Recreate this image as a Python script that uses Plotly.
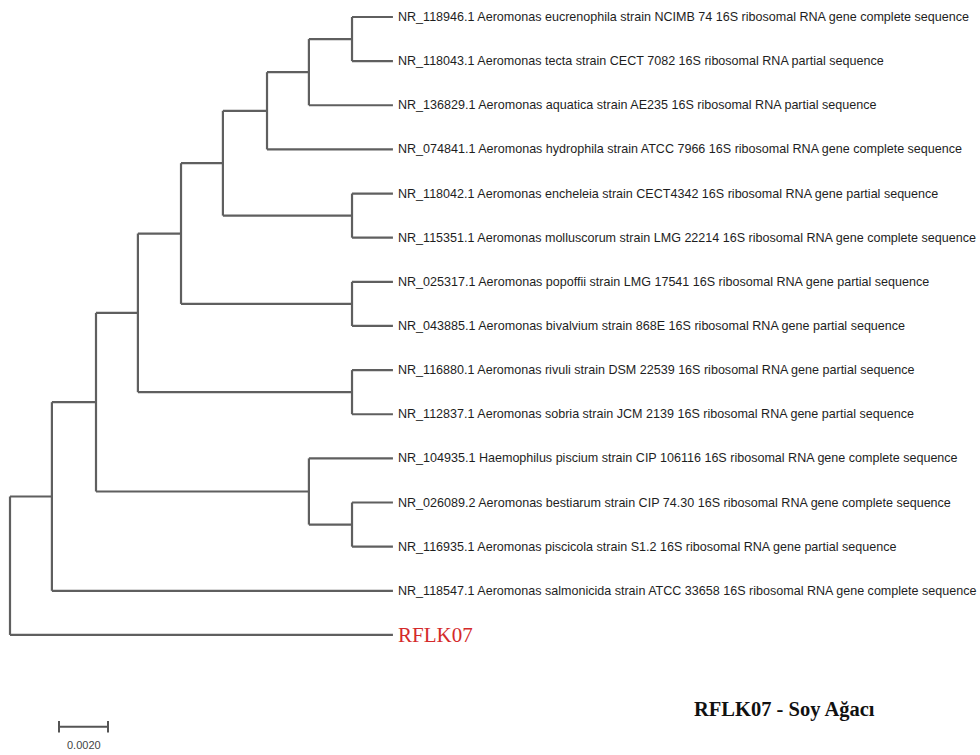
import plotly.graph_objects as go

# Leaf labels, top to bottom
leaf_labels = [
    "NR_118946.1 Aeromonas eucrenophila strain NCIMB 74 16S ribosomal RNA gene complete sequence",
    "NR_118043.1 Aeromonas tecta strain CECT 7082 16S ribosomal RNA partial sequence",
    "NR_136829.1 Aeromonas aquatica strain AE235 16S ribosomal RNA partial sequence",
    "NR_074841.1 Aeromonas hydrophila strain ATCC 7966 16S ribosomal RNA gene complete sequence",
    "NR_118042.1 Aeromonas encheleia strain CECT4342 16S ribosomal RNA gene partial sequence",
    "NR_115351.1 Aeromonas molluscorum strain LMG 22214 16S ribosomal RNA gene complete sequence",
    "NR_025317.1 Aeromonas popoffii strain LMG 17541 16S ribosomal RNA gene partial sequence",
    "NR_043885.1 Aeromonas bivalvium strain 868E 16S ribosomal RNA gene partial sequence",
    "NR_116880.1 Aeromonas rivuli strain DSM 22539 16S ribosomal RNA gene partial sequence",
    "NR_112837.1 Aeromonas sobria strain JCM 2139 16S ribosomal RNA gene partial sequence",
    "NR_104935.1 Haemophilus piscium strain CIP 106116 16S ribosomal RNA gene complete sequence",
    "NR_026089.2 Aeromonas bestiarum strain CIP 74.30 16S ribosomal RNA gene complete sequence",
    "NR_116935.1 Aeromonas piscicola strain S1.2 16S ribosomal RNA gene partial sequence",
    "NR_118547.1 Aeromonas salmonicida strain ATCC 33658 16S ribosomal RNA gene complete sequence",
    "RFLK07",
]

# Distance of every leaf tip from the root
leaf_depth = [0.01563] * 15

# Internal nodes: name, children (leaf indices or node names), distance from root
node_names = ["a", "b", "c", "d", "e", "f", "g", "h", "i", "j", "k", "l", "m", "root"]
node_children = [
    [0, 1], ["a", 2], ["b", 3], [4, 5], ["c", "d"], [6, 7], ["e", "f"],
    [8, 9], ["g", "h"], [11, 12], [10, "j"], ["i", "k"], ["l", 13], ["m", 14],
]
node_depth = [
    0.01396, 0.01220, 0.01049, 0.01396, 0.00869, 0.01396, 0.00698,
    0.01396, 0.00522, 0.01396, 0.01220, 0.00351, 0.00171, 0.0,
]

scale_bar_length = 0.0020
scale_bar_start = 0.0020
title_text = "RFLK07 - Soy Ağacı"

LINE = "#5f5f5f"

# Resolve positions of nodes
pos = {}
for i, d in enumerate(leaf_depth):
    pos[i] = (d, float(i))
for name, kids, d in zip(node_names, node_children, node_depth):
    ys = [pos[k][1] for k in kids]
    pos[name] = (d, (min(ys) + max(ys)) / 2)

xs, ys = [], []
for name, kids, d in zip(node_names, node_children, node_depth):
    ky = [pos[k][1] for k in kids]
    # vertical connector
    xs += [d, d, None]
    ys += [min(ky), max(ky), None]
    # horizontal branches to children
    for k in kids:
        cx, cy = pos[k]
        xs += [d, cx, None]
        ys += [cy, cy, None]

fig = go.Figure()
fig.add_trace(go.Scatter(x=xs, y=ys, mode="lines",
                         line=dict(color=LINE, width=2.2),
                         hoverinfo="skip", showlegend=False))

for i, lab in enumerate(leaf_labels):
    if lab == "RFLK07":
        font = dict(family="Liberation Serif, Times New Roman, serif", size=21, color="#d42a2a")
    else:
        font = dict(family="Liberation Sans, Arial", size=12.55, color="#1e1e1e")
    fig.add_annotation(x=leaf_depth[i], y=i, text=lab, showarrow=False,
                       xanchor="left", yanchor="middle", xshift=3,
                       font=font)

# Scale bar
sb_y = 16.08
sb_x0 = scale_bar_start
sb_x1 = scale_bar_start + scale_bar_length
fig.add_trace(go.Scatter(
    x=[sb_x0, sb_x1, None, sb_x0, sb_x0, None, sb_x1, sb_x1],
    y=[sb_y, sb_y, None, sb_y - 0.13, sb_y + 0.13, None, sb_y - 0.13, sb_y + 0.13],
    mode="lines", line=dict(color="#555555", width=2),
    hoverinfo="skip", showlegend=False))
fig.add_annotation(x=(sb_x0 + sb_x1) / 2, y=sb_y + 0.42, text=f"{scale_bar_length:.4f}",
                   showarrow=False, font=dict(family="Liberation Sans, Arial", size=11, color="#444444"))

fig.add_annotation(x=0.0316, y=15.68, text=f"<b>{title_text}</b>", showarrow=False,
                   xanchor="center", yanchor="middle",
                   font=dict(family="Liberation Serif, Times New Roman, serif", size=20.5, color="#111111"))

px_per_unit = 24500.0
fig.update_layout(
    width=980, height=755,
    margin=dict(l=0, r=0, t=0, b=0),
    paper_bgcolor="white", plot_bgcolor="white",
    xaxis=dict(range=[-10 / px_per_unit, 970 / px_per_unit], visible=False, fixedrange=True),
    yaxis=dict(range=[16.72, -0.385], visible=False, fixedrange=True),
)

fig.write_html("out.html")
